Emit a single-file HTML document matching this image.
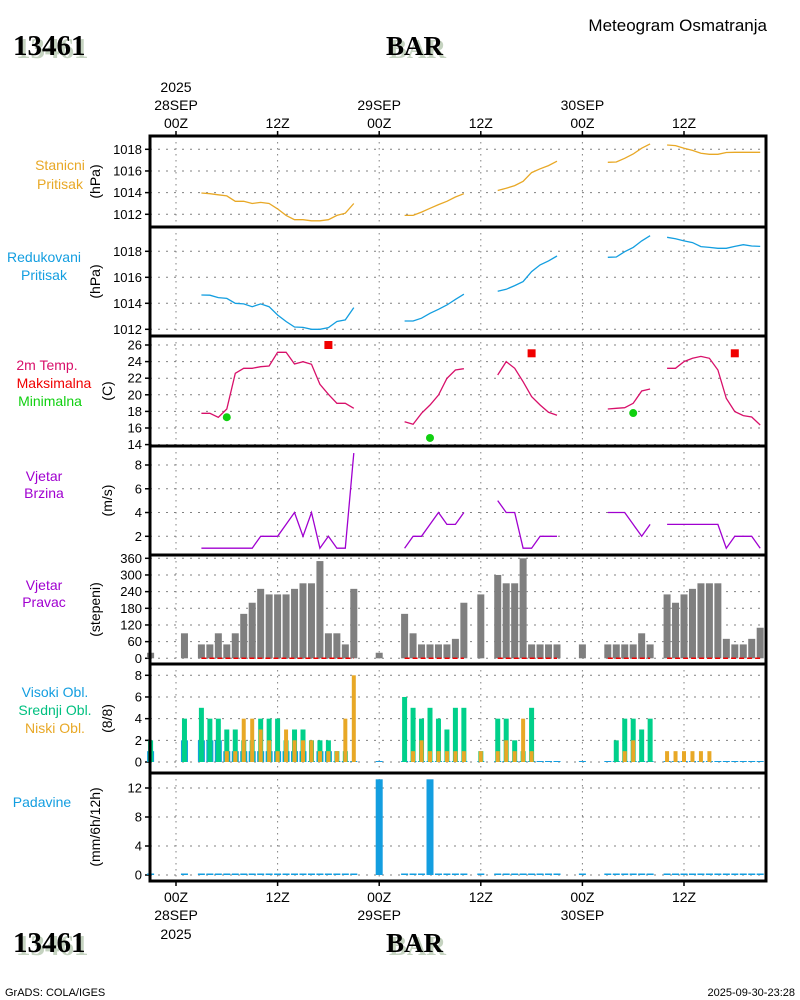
<!DOCTYPE html>
<html><head><meta charset="utf-8"><title>Meteogram 13461 BAR</title>
<style>
body{margin:0;background:#fff;width:800px;height:1000px;overflow:hidden}
svg{display:block}
text{font-family:"Liberation Sans",sans-serif}
</style></head><body>
<svg id="chart" width="800" height="1000" xmlns="http://www.w3.org/2000/svg">
<g id="titles">
 <text x="16" y="58" font-family="Liberation Serif" font-weight="bold" font-size="29" fill="#c5d3c0" style="font-family:'Liberation Serif',serif">13461</text>
 <text x="13" y="55" font-weight="bold" font-size="29" fill="#000" style="font-family:'Liberation Serif',serif">13461</text>
 <text x="389" y="58" font-weight="bold" font-size="27" fill="#c5d3c0" style="font-family:'Liberation Serif',serif">BAR</text>
 <text x="386" y="55" font-weight="bold" font-size="27" fill="#000" style="font-family:'Liberation Serif',serif">BAR</text>
 <text x="767" y="31" text-anchor="end" font-size="17" fill="#000">Meteogram Osmatranja</text>
 <text x="16" y="955" font-weight="bold" font-size="29" fill="#c5d3c0" style="font-family:'Liberation Serif',serif">13461</text>
 <text x="13" y="952" font-weight="bold" font-size="29" fill="#000" style="font-family:'Liberation Serif',serif">13461</text>
 <text x="389" y="955" font-weight="bold" font-size="27" fill="#c5d3c0" style="font-family:'Liberation Serif',serif">BAR</text>
 <text x="386" y="952" font-weight="bold" font-size="27" fill="#000" style="font-family:'Liberation Serif',serif">BAR</text>
 <text x="5" y="996" font-size="11" fill="#000">GrADS: COLA/IGES</text>
 <text x="795" y="996" text-anchor="end" font-size="11" fill="#000">2025-09-30-23:28</text>
</g>
</svg>
<script>
// ---- data ----
const lineHours = [3,4,5,6,7,8,9,10,11,12,13,14,15,16,17,18,19,20,21,null,27,28,29,30,31,32,33,34,null,38,39,40,41,42,43,44,45,null,51,52,53,54,55,56,null,58,59,60,61,62,63,64,65,66,67,68,69];
const stationPressure = [1013.97,1013.9,1013.8,1013.7,1013.2,1013.2,1013.0,1013.1,1013.0,1012.5,1011.9,1011.5,1011.5,1011.4,1011.4,1011.5,1011.9,1012.1,1013.0,null,
 1011.9,1011.9,1012.2,1012.55,1012.9,1013.2,1013.6,1013.9,null,
 1014.2,1014.4,1014.65,1015.05,1015.85,1016.2,1016.5,1016.9,null,
 1016.8,1016.83,1017.17,1017.57,1018.1,1018.5,null,
 1018.4,1018.34,1018.1,1017.9,1017.63,1017.54,1017.54,1017.7,1017.72,1017.72,1017.72,1017.72];
const reducedPressure = [1014.64,1014.62,1014.44,1014.38,1014.0,1013.95,1013.74,1013.95,1013.74,1013.1,1012.6,1012.18,1012.15,1012.0,1012.0,1012.13,1012.6,1012.72,1013.67,null,
 1012.64,1012.64,1012.85,1013.23,1013.54,1013.87,1014.3,1014.7,null,
 1014.92,1015.08,1015.36,1015.67,1016.44,1016.95,1017.26,1017.64,null,
 1017.54,1017.56,1017.97,1018.3,1018.8,1019.2,null,
 1019.08,1018.97,1018.8,1018.67,1018.36,1018.3,1018.23,1018.23,1018.38,1018.51,1018.41,1018.38];
const temperature = [17.77,17.77,17.29,18.29,22.59,23.19,23.19,23.39,23.47,25.12,25.12,23.71,23.99,23.67,21.26,20.06,18.97,18.97,18.37,null,
 16.76,16.44,17.77,18.77,19.98,21.98,22.99,23.15,null,
 22.39,24.0,23.19,21.58,19.78,18.77,17.89,17.53,null,
 18.29,18.37,18.45,18.97,20.46,20.7,null,
 23.19,23.19,24.0,24.4,24.63,24.4,22.99,19.57,17.97,17.49,17.33,16.36];
const windSpeed = [1,1,1,1,1,1,1,2,2,2,3,4,2,4,1,2,1,1,9,null,
 1,2,2,3,4,3,3,4,null,
 5,4,4,1,1,2,2,2,null,
 4,4,4,3,2,3,null,
 3,3,3,3,3,3,3,1,2,2,2,1];
const maxTempHours = [18,42,66];
const maxTempValues = [26,25,25];
const minTempHours = [6,30,54];
const minTempValues = [17.3,14.8,17.8];
const obsHours = [-3,1,3,4,5,6,7,8,9,10,11,12,13,14,15,16,17,18,19,20,21,24,27,28,29,30,31,32,33,34,36,38,39,40,41,42,43,44,45,48,51,52,53,54,55,56,58,59,60,61,62,63,64,65,66,67,68,69];
const windDir = [20,90,50,50,90,50,90,160,200,250,230,230,230,250,270,270,350,90,90,50,250,20,160,90,50,50,50,50,70,200,230,300,270,270,360,50,50,50,50,50,50,50,50,50,90,50,230,200,230,250,270,270,270,70,50,50,70,110];
const cloudHigh = [1,2,2,2,2,1,1,1,1,1,1,1,1,1,1,0,1,1,0,0,0,0,0,0,0,0,0,0,0,0,0,0,0,0,0,0,0,0,0,0,0,0,0,0,0,0,0,0,0,0,0,0,0,0,0,0,0,0];
const cloudMid = [2,4,5,4,4,3,3,2,2,4,4,4,2,3,3,2,2,2,1,1,0,0,6,5,4,5,4,3,5,5,1,4,4,2,1,5,0,0,0,0,0,2,4,4,3,4,0,0,0,0,0,0,0,0,0,0,0,0];
const cloudLow = [0,0,0,0,0,1,1,4,4,3,2,1,3,2,2,2,1,1,1,4,8,0,0,1,2,1,1,1,1,1,1,1,2,1,4,1,0,0,0,0,0,0,1,2,0,0,1,1,1,1,1,1,0,0,0,0,0,0];
const precip = [0,0,0,0,0,0,0,0,0,0,0,0,0,0,0,0,0,0,0,0,0,13.2,0,0,0,13.2,0,0,0,0,0,0,0,0,0,0,0,0,0,0,0,0,0,0,0,0,0,0,0,0,0,0,0,0,0,0,0,0];
const pTicks = [1012,1014,1016,1018];
const tTicks = [14,16,18,20,22,24,26];
const wsTicks = [2,4,6,8];
const wdTicks = [0,60,120,180,240,300,360];
const cTicks = [0,2,4,6,8];
const prTicks = [0,4,8,12];
const timeTicks = [0,12,24,36,48,60];
const timeLabels = ["00Z","12Z","00Z","12Z","00Z","12Z"];
const dateLabels = ["28SEP","","29SEP","","30SEP",""];

// ---- layout ----
const NS = "http://www.w3.org/2000/svg";
const svg = document.getElementById('chart');
const X0 = 150, X1 = 766;
const xh = h => 176 + h * (101.6 / 12);
function lin(v0, y0, v1, y1){ return v => y0 + (v - v0) * (y1 - y0) / (v1 - v0); }
const panels = [
 {name:'station-pressure', top:136, bot:227, y:lin(1012,214.3,1018,149.3), ticks:pTicks, unit:'(hPa)'},
 {name:'reduced-pressure', top:227, bot:336, y:lin(1012,329.3,1018,251.3), ticks:pTicks, unit:'(hPa)'},
 {name:'temperature', top:336, bot:446, y:lin(14,444.6,26,345), ticks:tTicks, unit:'(C)'},
 {name:'wind-speed', top:446, bot:555, y:lin(2,536.3,8,465), ticks:wsTicks, unit:'(m/s)'},
 {name:'wind-direction', top:555, bot:664, y:lin(0,658.3,360,558.3), ticks:wdTicks, unit:'(stepeni)'},
 {name:'cloud-cover', top:664, bot:773, y:lin(0,762,8,675.3), ticks:cTicks, unit:'(8/8)'},
 {name:'precipitation', top:773, bot:881, y:lin(0,875,12,788), ticks:prTicks, unit:'(mm/6h/12h)'}
];
function mk(tag, attrs, parent){
 const e = document.createElementNS(NS, tag);
 for (const k in attrs) e.setAttribute(k, attrs[k]);
 (parent || svg).appendChild(e);
 return e;
}
function txt(s, attrs, parent){ const t = mk('text', attrs, parent); t.textContent = s; return t; }

// panel grids, ticks, units
panels.forEach(p => {
 const g = mk('g', {});
 
 
 p.g = g;
 timeTicks.forEach(h => {
  const l = mk('line', {x1:xh(h), x2:xh(h), y1:p.top, y2:p.bot, stroke:'#808080', 'stroke-dasharray':'1.5,4.5', 'stroke-width':1}, g);
  
  
 });
 p.ticks.forEach(v => {
  const y = p.y(v);
  const l = mk('line', {x1:X0, x2:X1, y1:y, y2:y, stroke:'#808080', 'stroke-dasharray':'2,6', 'stroke-width':1}, g);
  
  
  mk('line', {x1:X0-5, x2:X0, y1:y, y2:y, stroke:'#000', 'stroke-width':1.5}, g);
  const t = txt(String(v), {x:X0-8, y:y+4.5, 'text-anchor':'end', 'font-size':13, fill:'#000'}, g);
  
  
 });
 const cy = (p.top + p.bot) / 2;
 const u = txt(p.unit, {x:0, y:0, 'text-anchor':'middle', 'font-size':14, fill:'#000', transform:`translate(${p.name==='temperature'||p.name==='cloud-cover'||p.name==='wind-speed'?112:100},${cy}) rotate(-90)`}, g);
 
 
});

// series helpers
function drawLine(p, vals, color, name){
 let d = '', pen = false;
 lineHours.forEach((h, i) => {
  const v = vals[i];
  if (h === null || v === null) { pen = false; return; }
  d += (pen ? 'L' : 'M') + xh(h).toFixed(1) + ',' + p.y(v).toFixed(1);
  pen = true;
 });
 const path = mk('path', {d:d, fill:'none', stroke:color, 'stroke-width':1.3}, p.g);
 
 
}
function drawBars(p, vals, color, w, name, minH){
 obsHours.forEach((h, i) => {
  const y0 = p.y(0), y1 = p.y(vals[i]);
  let hgt = y0 - y1;
  if (hgt < (minH||0)) hgt = minH||0;
  if (hgt <= 0) return;
  const r = mk('rect', {x:xh(h)-w/2, y:Math.min(y0, p.bot) - hgt, width:w, height:hgt, fill:color}, p.g);
  
  
 });
}
drawLine(panels[0], stationPressure, '#e8a826', 'station-pressure-line');
drawLine(panels[1], reducedPressure, '#139ee0', 'reduced-pressure-line');
drawLine(panels[2], temperature, '#d8106a', 'temperature-line');
drawLine(panels[3], windSpeed, '#a000d0', 'wind-speed-line');
maxTempHours.forEach((h, i) => {
 const r = mk('rect', {x:xh(h)-4, y:panels[2].y(maxTempValues[i])-4, width:8, height:8, fill:'#f00000'}, panels[2].g);
 
 
});
minTempHours.forEach((h, i) => {
 const c = mk('circle', {cx:xh(h), cy:panels[2].y(minTempValues[i]), r:4, fill:'#10d010'}, panels[2].g);
 
 
});
// wind direction bars
drawBars(panels[4], windDir, '#7f7f7f', 7, 'wind-direction-bar');
// red dashed zero segments along observed line hours
(function(){
 const p = panels[4];
 let d = '', pen = false;
 lineHours.forEach(h => {
  if (h === null) { pen = false; return; }
  d += (pen ? 'L' : 'M') + xh(h).toFixed(1) + ',' + p.y(0).toFixed(1);
  pen = true;
 });
 const path = mk('path', {d:d, fill:'none', stroke:'#f00000', 'stroke-width':1.5, 'stroke-dasharray':'5,3'}, p.g);
 
 
})();
// clouds
drawBars(panels[5], cloudHigh, '#139ee0', 7, 'high-cloud-bar', 1);
drawBars(panels[5], cloudMid, '#00d08a', 5, 'mid-cloud-bar');
drawBars(panels[5], cloudLow, '#e8a826', 4, 'low-cloud-bar');
// precipitation
drawBars(panels[6], precip, '#139ee0', 7, 'precipitation-bar', 1.5);

// frame
panels.forEach(p => {
 const r = mk('rect', {x:X0, y:p.top, width:X1-X0, height:p.bot-p.top, fill:'none', stroke:'#000', 'stroke-width':3}, p.g);
 
 
});

// time axes
const ax = mk('g', {});


timeTicks.forEach((h, i) => {
 const x = xh(h);
 mk('line', {x1:x, x2:x, y1:131, y2:136, stroke:'#000', 'stroke-width':1.5}, ax);
 mk('line', {x1:x, x2:x, y1:881, y2:886, stroke:'#000', 'stroke-width':1.5}, ax);
 const t1 = txt(timeLabels[i], {x:x, y:128, 'text-anchor':'middle', 'font-size':14, fill:'#000'}, ax);
 
 
 const t2 = txt(timeLabels[i], {x:x, y:902, 'text-anchor':'middle', 'font-size':14, fill:'#000'}, ax);
 
 
 if (dateLabels[i]) {
  const d1 = txt(dateLabels[i], {x:x, y:110, 'text-anchor':'middle', 'font-size':14, fill:'#000'}, ax);
  
  
  const d2 = txt(dateLabels[i], {x:x, y:920, 'text-anchor':'middle', 'font-size':14, fill:'#000'}, ax);
  
  
 }
});
const y1 = txt('2025', {x:xh(0), y:92, 'text-anchor':'middle', 'font-size':14, fill:'#000'}, ax);


const y2 = txt('2025', {x:xh(0), y:939, 'text-anchor':'middle', 'font-size':14, fill:'#000'}, ax);



// panel names
const names = [
 ['Stanicni',60,170,'#e8a826'],['Pritisak',60,189,'#e8a826'],
 ['Redukovani',44,262,'#139ee0'],['Pritisak',44,280,'#139ee0'],
 ['2m Temp.',47,370,'#d8106a'],['Maksimalna',54,388,'#f00000'],['Minimalna',50,406,'#10d010'],
 ['Vjetar',44,481,'#a000d0'],['Brzina',44,498,'#a000d0'],
 ['Vjetar',44,590,'#a000d0'],['Pravac',44,607,'#a000d0'],
 ['Visoki Obl.',55,697,'#139ee0'],['Srednji Obl.',55,715,'#00c080'],['Niski Obl.',55,733,'#e8a826'],
 ['Padavine',42,807,'#139ee0']
];
const lg = mk('g', {});


names.forEach(n => {
 const t = txt(n[0], {x:n[1], y:n[2], 'text-anchor':'middle', 'font-size':14, fill:n[3]}, lg);
 
 
});
</script>
</body></html>
